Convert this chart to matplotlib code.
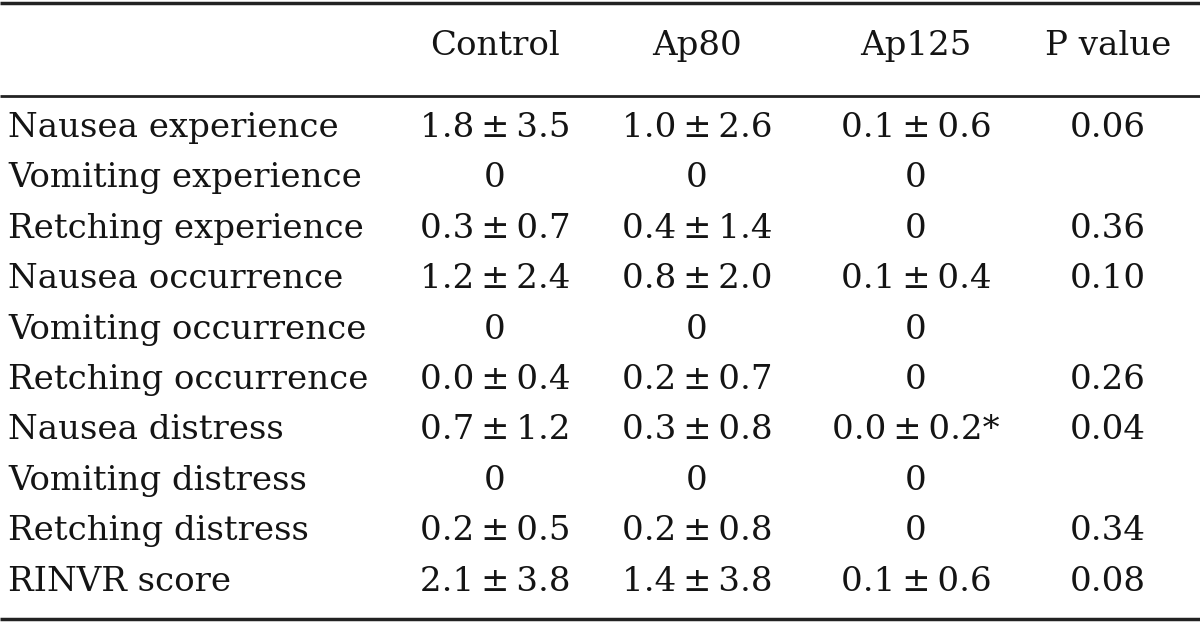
import matplotlib.pyplot as plt

# table content
columns = ["Control", "Ap80", "Ap125", "P value"]
rows = ["Nausea experience", "Vomiting experience", "Retching experience",
        "Nausea occurrence", "Vomiting occurrence", "Retching occurrence",
        "Nausea distress", "Vomiting distress", "Retching distress",
        "RINVR score"]
control = ["1.8 ± 3.5", "0", "0.3 ± 0.7", "1.2 ± 2.4", "0", "0.0 ± 0.4",
           "0.7 ± 1.2", "0", "0.2 ± 0.5", "2.1 ± 3.8"]
ap80 = ["1.0 ± 2.6", "0", "0.4 ± 1.4", "0.8 ± 2.0", "0", "0.2 ± 0.7",
        "0.3 ± 0.8", "0", "0.2 ± 0.8", "1.4 ± 3.8"]
ap125 = ["0.1 ± 0.6", "0", "0", "0.1 ± 0.4", "0", "0",
         "0.0 ± 0.2*", "0", "0", "0.1 ± 0.6"]
pvals = ["0.06", "", "0.36", "0.10", "", "0.26", "0.04", "", "0.34", "0.08"]


def main():
    fig = plt.figure(figsize=(12, 6.22), dpi=100)
    ax = fig.add_axes([0, 0, 1, 1])
    ax.set_xlim(0, 1200)
    ax.set_ylim(622, 0)
    ax.axis("off")

    font = dict(family="DejaVu Serif", fontsize=24.5, color="#141414")
    col_x = [495, 697, 916, 1108]
    y0, dy = 128, 50.4

    # rules
    for y, lw in [(2.5, 2.5), (96, 2.0), (619, 2.5)]:
        ax.plot([0, 1200], [y, y], color="#222222", lw=lw, solid_capstyle="butt")

    for x, name in zip(col_x, columns):
        ax.text(x, 46, name, ha="center", va="center", **font)

    for i, name in enumerate(rows):
        y = y0 + i * dy
        ax.text(8, y, name, ha="left", va="center", **font)
        for x, col in zip(col_x, [control, ap80, ap125, pvals]):
            # thin spaces around the plus-minus sign, as in the print
            ax.text(x, y, col[i].replace(" ", "\u2009"), ha="center",
                    va="center", **font)

    fig.savefig("out.png", dpi=100)


if __name__ == "__main__":
    main()
